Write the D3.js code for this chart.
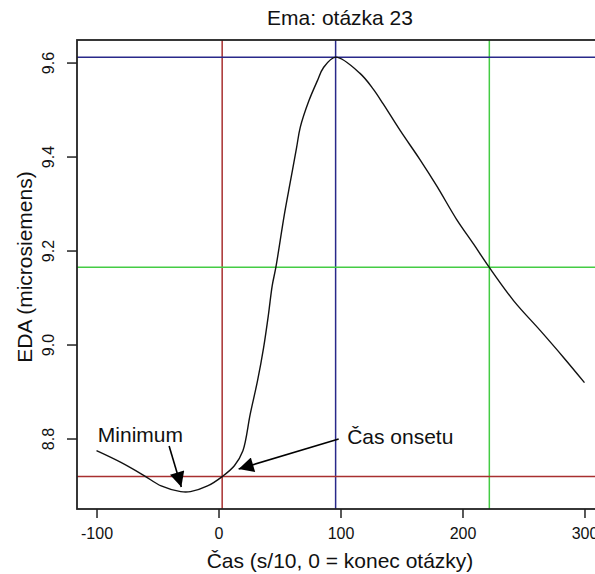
<!DOCTYPE html>
<html>
  <head>
    <meta charset="utf-8">
    <title>Ema: otázka 23</title>
    <script src="https://cdnjs.cloudflare.com/ajax/libs/d3/7.8.5/d3.min.js"></script>
    <style>
      body { margin: 0; background: #fff; }
      text { font-family: "Liberation Sans", Arial, sans-serif; fill: #111; }
    </style>
  </head>

  <body>
    <div id="vis"></div>
    <script>
      // EDA curve
      var cas = [-100, -80, -61, -47, -31, -23, -9, 3, 13, 20, 26, 32, 37, 41, 44, 47, 54, 59, 64, 67, 74, 81, 86, 96,
                 116, 127, 135, 149, 165, 179, 195, 209, 222, 242, 264, 283, 300]
      var eda = [8.774, 8.749, 8.721, 8.699, 8.687, 8.687, 8.699, 8.719, 8.742, 8.774, 8.852, 8.923, 8.994, 9.065, 9.125,
                 9.164, 9.277, 9.348, 9.419, 9.462, 9.518, 9.561, 9.589, 9.6115,
                 9.577, 9.543, 9.512, 9.455, 9.394, 9.337, 9.267, 9.214, 9.164, 9.093, 9.029, 8.972, 8.919]

      var xTicks = [-100, 0, 100, 200, 300]
      var yTicks = [8.8, 9.0, 9.2, 9.4, 9.6]

      // marker lines: onset, peak, half of the rise
      var markX = [3, 96, 222]
      var markY = [8.719, 9.6115, 9.1645]
      var markColor = ['#a83030', '#29298a', '#44cc44']

      // annotations [text x, text y, arrow from x, y, arrow to x, y]
      var notes = [
        ['Minimum', -64, 8.792, -40.5, 8.784, -30.5, 8.697],
        ['Čas onsetu', 149, 8.788, 98.5, 8.799, 16.5, 8.735]
      ]

      var W = 595, H = 574
      var pL = 77, pT = 40, pR = 604, pB = 509

      var x = d3.scaleLinear().domain([-116, 316]).range([pL, pR])
      var y = d3.scaleLinear().domain([8.650, 9.648]).range([pB, pT])

      var svg = d3.select("#vis")
                  .append("svg")
                  .attr('width', W)
                  .attr('height', H)

      svg.append("defs").append("marker")
        .attr('id', 'head')
        .attr('viewBox', '0 0 10 10')
        .attr('refX', 10)
        .attr('refY', 5)
        .attr('markerUnits', 'userSpaceOnUse')
        .attr('markerWidth', 17)
        .attr('markerHeight', 15)
        .attr('orient', 'auto')
        .append("path")
        .attr('d', 'M0,0 L10,5 L0,10 Z')
        .attr('fill', '#000')

      svg.append("clipPath").attr('id', 'plot')
        .append("rect")
        .attr('x', pL).attr('y', pT)
        .attr('width', pR - pL).attr('height', pB - pT)

      var plot = svg.append("g").attr('clip-path', 'url(#plot)')

      // vertical + horizontal reference lines
      plot.selectAll("line.v").data(markX).enter()
        .append("line")
        .attr('class', 'v')
        .attr('x1', function(d){ return x(d); })
        .attr('x2', function(d){ return x(d); })
        .attr('y1', pT).attr('y2', pB)
        .attr('stroke', function(d, i){ return markColor[i]; })
        .attr('stroke-width', 1.5)

      plot.selectAll("line.h").data(markY).enter()
        .append("line")
        .attr('class', 'h')
        .attr('y1', function(d){ return y(d); })
        .attr('y2', function(d){ return y(d); })
        .attr('x1', pL).attr('x2', pR)
        .attr('stroke', function(d, i){ return markColor[i]; })
        .attr('stroke-width', 1.5)

      var line = d3.line()
        .x(function(d){ return x(d); })
        .y(function(d, i){ return y(eda[i]); })
        .curve(d3.curveCatmullRom.alpha(0.5))

      plot.append("path")
        .attr('d', line(cas))
        .attr('fill', 'none')
        .attr('stroke', '#111')
        .attr('stroke-width', 1.4)

      // box
      svg.append("rect")
        .attr('x', pL).attr('y', pT)
        .attr('width', pR - pL).attr('height', pB - pT)
        .attr('fill', 'none')
        .attr('stroke', '#222')
        .attr('stroke-width', 1.8)

      // axes
      var xAxis = svg.append("g")
        .attr('transform', 'translate(0,' + pB + ')')
        .call(d3.axisBottom(x).tickValues(xTicks).tickSize(9).tickSizeOuter(0).tickPadding(10)
              .tickFormat(function(d){ return String(d); }))
      xAxis.select(".domain").remove()
      xAxis.selectAll("line").attr('stroke', '#222').attr('stroke-width', 1.5)
      xAxis.selectAll("text")
        .style('font-size', '16px')
        .style('font-family', '"Liberation Sans", Arial, sans-serif')
        .attr('fill', '#111')

      var yAxis = svg.append("g")
        .attr('transform', 'translate(' + pL + ',0)')
        .call(d3.axisLeft(y).tickValues(yTicks).tickSize(10).tickSizeOuter(0).tickFormat(d3.format('.1f')))
      yAxis.select(".domain").remove()
      yAxis.selectAll("line").attr('stroke', '#222').attr('stroke-width', 1.5)
      yAxis.selectAll("text")
        .attr('x', null).attr('dy', null)
        .attr('transform', 'translate(-23,0) rotate(-90)')
        .attr('text-anchor', 'middle')
        .style('font-size', '16px')
        .style('font-family', '"Liberation Sans", Arial, sans-serif')
        .attr('fill', '#111')

      // titles
      svg.append("text")
        .attr('x', 340).attr('y', 25)
        .attr('text-anchor', 'middle')
        .style('font-size', '21px')
        .text('Ema: otázka 23')

      svg.append("text")
        .attr('x', 340).attr('y', 568)
        .attr('text-anchor', 'middle')
        .style('font-size', '21px')
        .text('Čas (s/10, 0 = konec otázky)')

      svg.append("text")
        .attr('transform', 'translate(32,267) rotate(-90)')
        .attr('text-anchor', 'middle')
        .style('font-size', '21px')
        .text('EDA (microsiemens)')

      // annotations
      svg.selectAll("text.note").data(notes).enter()
        .append("text")
        .attr('class', 'note')
        .attr('x', function(d){ return x(d[1]); })
        .attr('y', function(d){ return y(d[2]); })
        .attr('text-anchor', 'middle')
        .style('font-size', '21px')
        .text(function(d){ return d[0]; })

      svg.selectAll("line.arrow").data(notes).enter()
        .append("line")
        .attr('class', 'arrow')
        .attr('x1', function(d){ return x(d[3]); })
        .attr('y1', function(d){ return y(d[4]); })
        .attr('x2', function(d){ return x(d[5]); })
        .attr('y2', function(d){ return y(d[6]); })
        .attr('stroke', '#000')
        .attr('stroke-width', 1.6)
        .attr('marker-end', 'url(#head)')
    </script>
  </body>
</html>
